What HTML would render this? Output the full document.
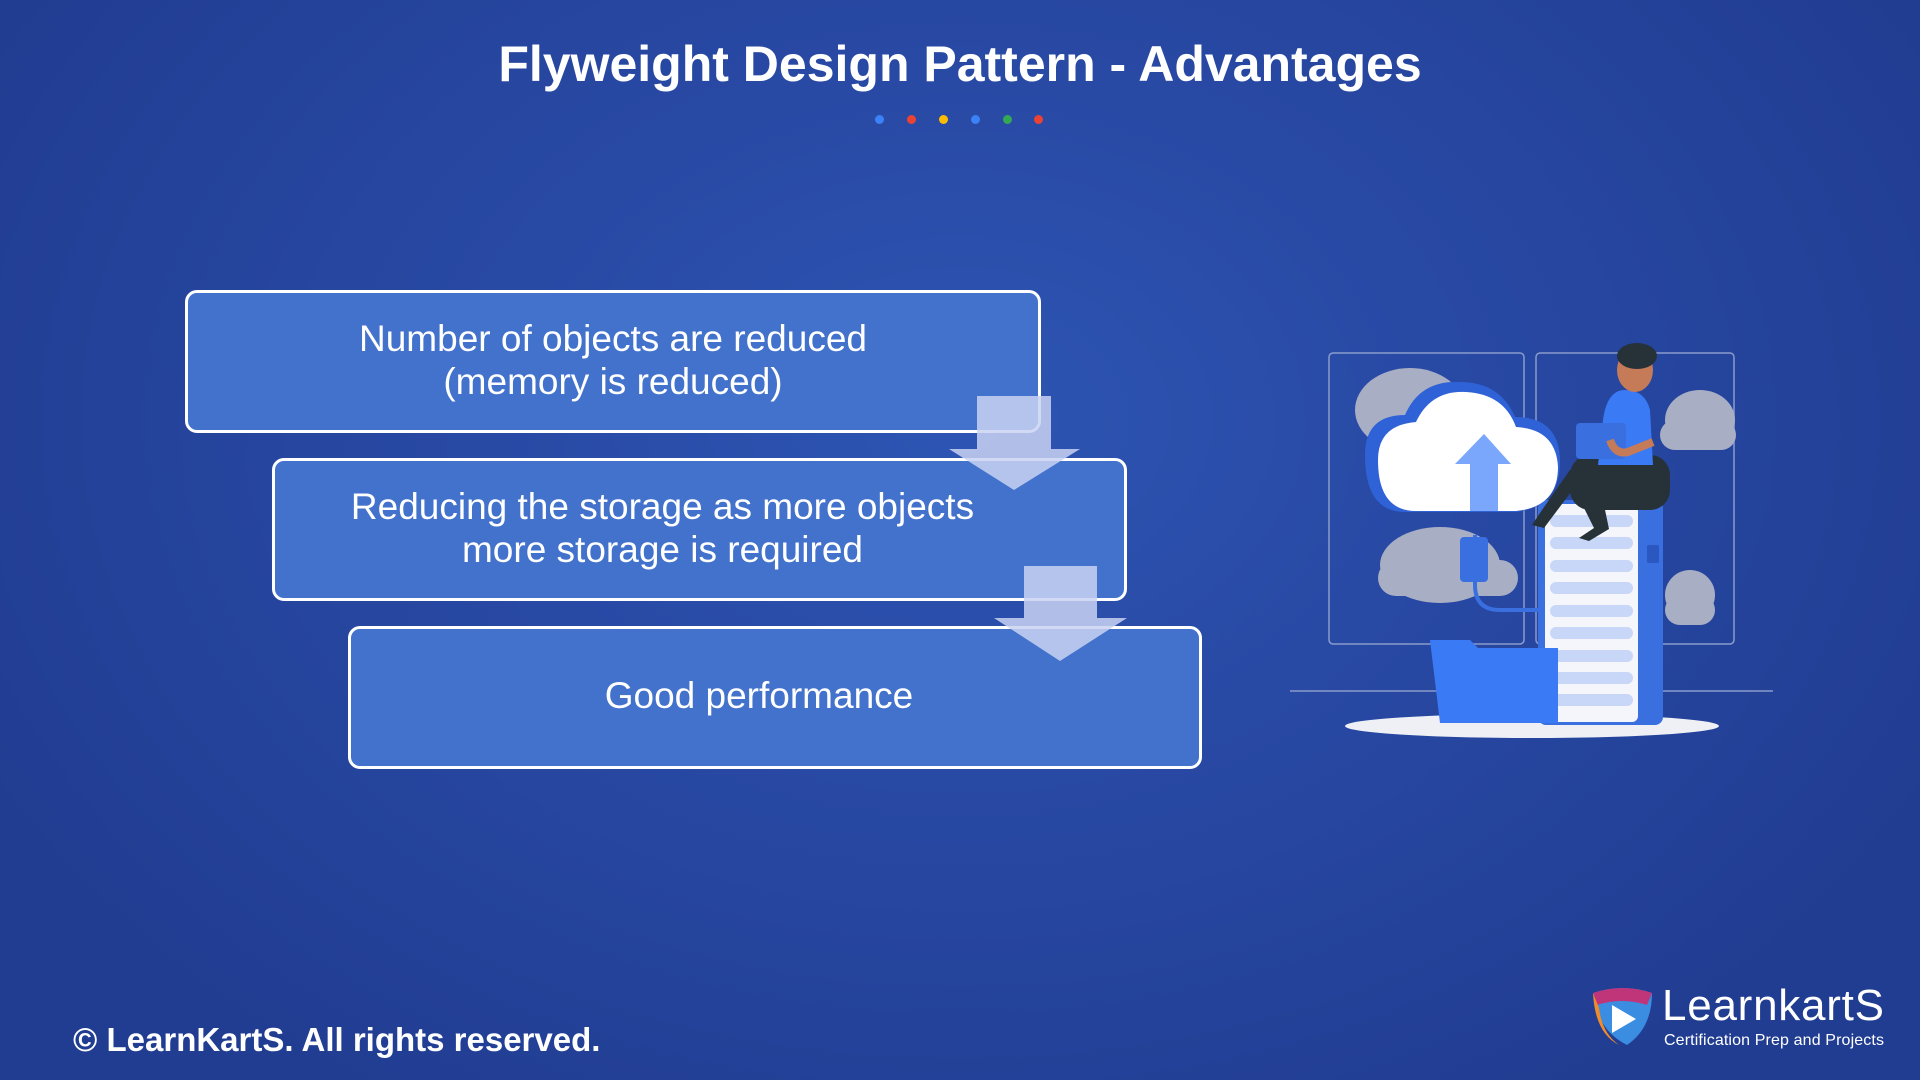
<!DOCTYPE html>
<html><head><meta charset="utf-8"><style>
*{margin:0;padding:0;box-sizing:border-box}
body{width:1920px;height:1080px;overflow:hidden;position:relative;font-family:"Liberation Sans","DejaVu Sans",sans-serif;
background:radial-gradient(ellipse 1100px 800px at 960px 420px,#2d55b3 0%,#2849a4 45%,#213d92 100%);}
.title{position:absolute;top:35px;left:0;width:1920px;text-align:center;color:#fff;font-weight:bold;font-size:50px;}
.dot{position:absolute;top:115px;width:9px;height:9px;border-radius:50%}
.box{position:absolute;border:3px solid #fff;border-radius:12px;background:#4272cc;color:#fff;font-size:37px;line-height:43px;display:flex;align-items:center;justify-content:center;text-align:center;padding-bottom:4px}
.foot{position:absolute;left:73px;top:1021px;color:#fff;font-weight:bold;font-size:33px}
</style></head><body>
<div class="title">Flyweight Design Pattern - Advantages</div>
<div class="dot" style="left:875px;background:#3b82f6"></div>
<div class="dot" style="left:907px;background:#ea4335"></div>
<div class="dot" style="left:939px;background:#fbbc05"></div>
<div class="dot" style="left:971px;background:#3b82f6"></div>
<div class="dot" style="left:1003px;background:#34a853"></div>
<div class="dot" style="left:1034px;background:#ea4335"></div>

<div class="box" style="left:185px;top:290px;width:856px;height:143px">Number of objects are reduced<br>(memory is reduced)</div>
<div class="box" style="left:272px;top:458px;width:855px;height:143px;padding-right:74px">Reducing the storage as more objects<br>more storage is required</div>
<div class="box" style="left:348px;top:626px;width:854px;height:143px;padding-right:32px">Good performance</div>

<svg style="position:absolute;left:0;top:0" width="1920" height="1080">
<polygon points="977,396 1051,396 1051,449 1080,449 1014,490 949,449 977,449" fill="#c9d2f2" fill-opacity="0.85"/>
<polygon points="1024,566 1097,566 1097,618 1127,618 1060,661 994,618 1024,618" fill="#c9d2f2" fill-opacity="0.85"/>

<rect x="1329" y="353" width="195" height="291" rx="4" fill="none" stroke="#8a9ccc" stroke-width="1.5"/>
<rect x="1536" y="353" width="198" height="291" rx="4" fill="none" stroke="#8a9ccc" stroke-width="1.5"/>
<line x1="1290" y1="691" x2="1773" y2="691" stroke="#8a9ccc" stroke-width="1.5"/>
<g fill="#a8aec4">
<ellipse cx="1410" cy="410" rx="55" ry="42"/><ellipse cx="1390" cy="420" rx="30" ry="22"/>
<rect x="1362" y="405" width="120" height="35" rx="17"/>
<ellipse cx="1700" cy="420" rx="35" ry="30"/><rect x="1660" y="420" width="76" height="30" rx="15"/>
<ellipse cx="1440" cy="565" rx="60" ry="38"/><rect x="1378" y="560" width="140" height="36" rx="18"/>
<ellipse cx="1690" cy="595" rx="25" ry="25"/><rect x="1665" y="595" width="50" height="30" rx="15"/>
</g>
<ellipse cx="1532" cy="726" rx="187" ry="12" fill="#eef0f6"/>
<rect x="1538" y="500" width="125" height="225" rx="8" fill="#3a6fe0"/>
<rect x="1545" y="504" width="93" height="218" rx="6" fill="#f4f6fb"/>
<g fill="#c8d6f8">
<rect x="1550" y="515" width="83" height="12" rx="6"/><rect x="1550" y="537" width="83" height="12" rx="6"/>
<rect x="1550" y="560" width="83" height="12" rx="6"/><rect x="1550" y="582" width="83" height="12" rx="6"/>
<rect x="1550" y="605" width="83" height="12" rx="6"/><rect x="1550" y="627" width="83" height="12" rx="6"/>
<rect x="1550" y="650" width="83" height="12" rx="6"/><rect x="1550" y="672" width="83" height="12" rx="6"/>
<rect x="1550" y="694" width="83" height="12" rx="6"/>
</g>
<rect x="1647" y="545" width="12" height="18" rx="2" fill="#2a57c0"/>
<path d="M1475 535 v50 q0 25 25 25 h40" fill="none" stroke="#3a6fe0" stroke-width="4"/>
<rect x="1460" y="537" width="28" height="45" rx="4" fill="#3a6fe0"/>
<path d="M1365 455 q0-40 40-40 q15-35 55-33 q40 0 55 35 q45 0 45 45 q0 45-45 50 h-110 q-40 0-40-57z" fill="#2f62d6"/>
<path d="M1378 460 q0-35 38-38 q15-32 50-30 q38 2 50 35 q40 2 42 40 q0 40-42 44 h-100 q-38 0-38-51z" fill="#fff"/>
<polygon points="1484,434 1511,464 1498,464 1498,511 1470,511 1470,464 1455,464" fill="#7aa6fb"/>
<path d="M1430 640 h40 l8 8 h80 v75 h-118 z" fill="#3a7af5"/>
<path d="M1570 470 l-28 40 l-10 15 l12 3 l30-40 l20 40 l-15 10 l10 3 l20-12 l-10-48 z" fill="#263238"/>
<rect x="1570" y="455" width="100" height="55" rx="20" fill="#263238"/>
<path d="M1625 390 q-18 0-22 30 l-5 45 h55 l-3-55 q-5-20-25-20z" fill="#3a7af5"/>
<ellipse cx="1635" cy="370" rx="18" ry="22" fill="#c57a58"/>
<ellipse cx="1637" cy="356" rx="20" ry="13" fill="#263238"/>
<rect x="1576" y="423" width="50" height="36" rx="4" fill="#3a6fe0"/>
<path d="M1610 440 q5 15 18 12 l25-10" fill="none" stroke="#c57a58" stroke-width="8"/>
<path d="M1593 993 q30-10 59 0 q0 35-25 52 q-30-15-34-52z" fill="#3a8de0"/>
<path d="M1593 993 q30-10 59 0 l-5 12 q-25-8-50 0z" fill="#c0357a"/>
<path d="M1593 993 l6 15 q3 25 20 37 q-24-12-26-52z" fill="#f08a2a"/>
<polygon points="1612,1005 1636,1019 1612,1033" fill="#fff"/>
<text x="1662" y="1020" fill="#fff" font-family="Liberation Sans, sans-serif" font-size="44" textLength="222">LearnkartS</text>
<text x="1664" y="1045" fill="#fff" font-family="Liberation Sans, sans-serif" font-size="16" textLength="220">Certification Prep and Projects</text>
</svg>
<div class="foot">© LearnKartS. All rights reserved.</div>
</body></html>
